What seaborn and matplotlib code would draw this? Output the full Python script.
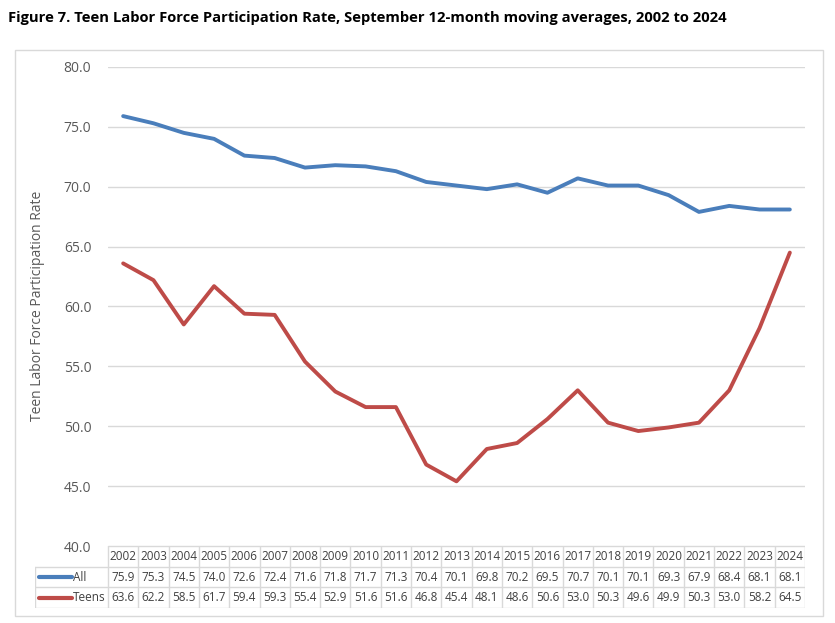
import matplotlib
matplotlib.use("Agg")
import matplotlib.pyplot as plt
import seaborn as sns
import pandas as pd
from matplotlib.patches import Rectangle

years = list(range(2002, 2025))
all_rate = [75.9, 75.3, 74.5, 74.0, 72.6, 72.4, 71.6, 71.8, 71.7, 71.3, 70.4,
            70.1, 69.8, 70.2, 69.5, 70.7, 70.1, 70.1, 69.3, 67.9, 68.4, 68.1, 68.1]
teens_rate = [63.6, 62.2, 58.5, 61.7, 59.4, 59.3, 55.4, 52.9, 51.6, 51.6, 46.8,
              45.4, 48.1, 48.6, 50.6, 53.0, 50.3, 49.6, 49.9, 50.3, 53.0, 58.2, 64.5]
series_names = ["All", "Teens"]
yticks = [40, 45, 50, 55, 60, 65, 70, 75, 80]
title = "Figure 7. Teen Labor Force Participation Rate, September 12-month moving averages, 2002 to 2024"
ylabel = "Teen Labor Force Participation Rate"

sns.set_theme(style="white")
plt.rcParams['font.family'] = ['Open Sans', 'DejaVu Sans']

colors = {"All": "#4A7EBB", "Teens": "#BE4B48"}
gray_txt = "#595959"
grid_c = "#D9D9D9"

W, H = 835, 623
fig = plt.figure(figsize=(W / 100, H / 100), dpi=100)

def fx(px):
    return px / W

def fy(py):
    return 1 - py / H

# outer chart border
fig.patches.append(Rectangle((fx(15), fy(616)), fx(823) - fx(15), fy(50) - fy(616),
                             transform=fig.transFigure, fill=False, edgecolor="#D9D9D9", lw=1))

fig.text(fx(8), fy(18), title, fontsize=10.65, fontweight="bold", ha="left", va="center",
         color="#000000")

left, right, top, bottom = 108, 805, 67, 546
ax = fig.add_axes([fx(left), fy(bottom), fx(right) - fx(left), fy(top) - fy(bottom)])

df = pd.DataFrame({
    "idx": list(range(len(years))) * 2,
    "value": all_rate + teens_rate,
    "series": ["All"] * len(years) + ["Teens"] * len(years),
})
sns.lineplot(data=df, x="idx", y="value", hue="series", palette=colors, ax=ax,
             linewidth=2.8, legend=False)

ax.set_xlim(-0.5, len(years) - 0.5)
ax.set_ylim(40, 80)
ax.set_yticks(yticks)
ax.set_yticklabels([f"{v:.1f}" for v in yticks], color=gray_txt, fontsize=10)
ax.set_xticks([])
ax.set_xlabel("")
ax.set_ylabel("")
ax.tick_params(axis="y", length=0, pad=12)
for s in ax.spines.values():
    s.set_visible(False)
ax.yaxis.grid(True, color=grid_c, lw=1)
ax.set_axisbelow(True)
fig.text(fx(38), fy(306), ylabel, rotation=90, ha="center", va="center",
         fontsize=10, color=gray_txt)

# data table
tl, tr, ttop, tbot = 35, 805, 546, 608
tax = fig.add_axes([fx(tl), fy(tbot), fx(tr) - fx(tl), fy(ttop) - fy(tbot)])
tax.set_xlim(tl, tr)
tax.set_ylim(tbot, ttop)
tax.axis("off")
n = len(years)
colw = (right - left) / n
row_edges = [546, 567, 587, 608]
lc = "#D9D9D9"
tax.plot([left, right], [row_edges[0], row_edges[0]], color=lc, lw=1)
for y in row_edges[1:]:
    tax.plot([tl, right], [y, y], color=lc, lw=1)
tax.plot([tl, tl], [row_edges[1], row_edges[3]], color=lc, lw=1)
for i in range(n + 1):
    x = left + i * colw
    tax.plot([x, x], [row_edges[0], row_edges[3]], color=lc, lw=1)

txt_c = "#404040"
for i, yr in enumerate(years):
    cx = left + (i + 0.5) * colw
    tax.text(cx, (row_edges[0] + row_edges[1]) / 2, str(yr), ha="center", va="center",
             fontsize=8.5, color=txt_c)
    tax.text(cx, (row_edges[1] + row_edges[2]) / 2, f"{all_rate[i]:.1f}", ha="center",
             va="center", fontsize=8.5, color=txt_c)
    tax.text(cx, (row_edges[2] + row_edges[3]) / 2, f"{teens_rate[i]:.1f}", ha="center",
             va="center", fontsize=8.5, color=txt_c)

for r, name in enumerate(series_names):
    cy = (row_edges[r + 1] + row_edges[r + 2]) / 2
    tax.plot([39, 72], [cy, cy], color=colors[name], lw=3, solid_capstyle="round")
    tax.text(73, cy, name, ha="left", va="center", fontsize=8.5, color=txt_c)

fig.savefig("out.png", dpi=100)
